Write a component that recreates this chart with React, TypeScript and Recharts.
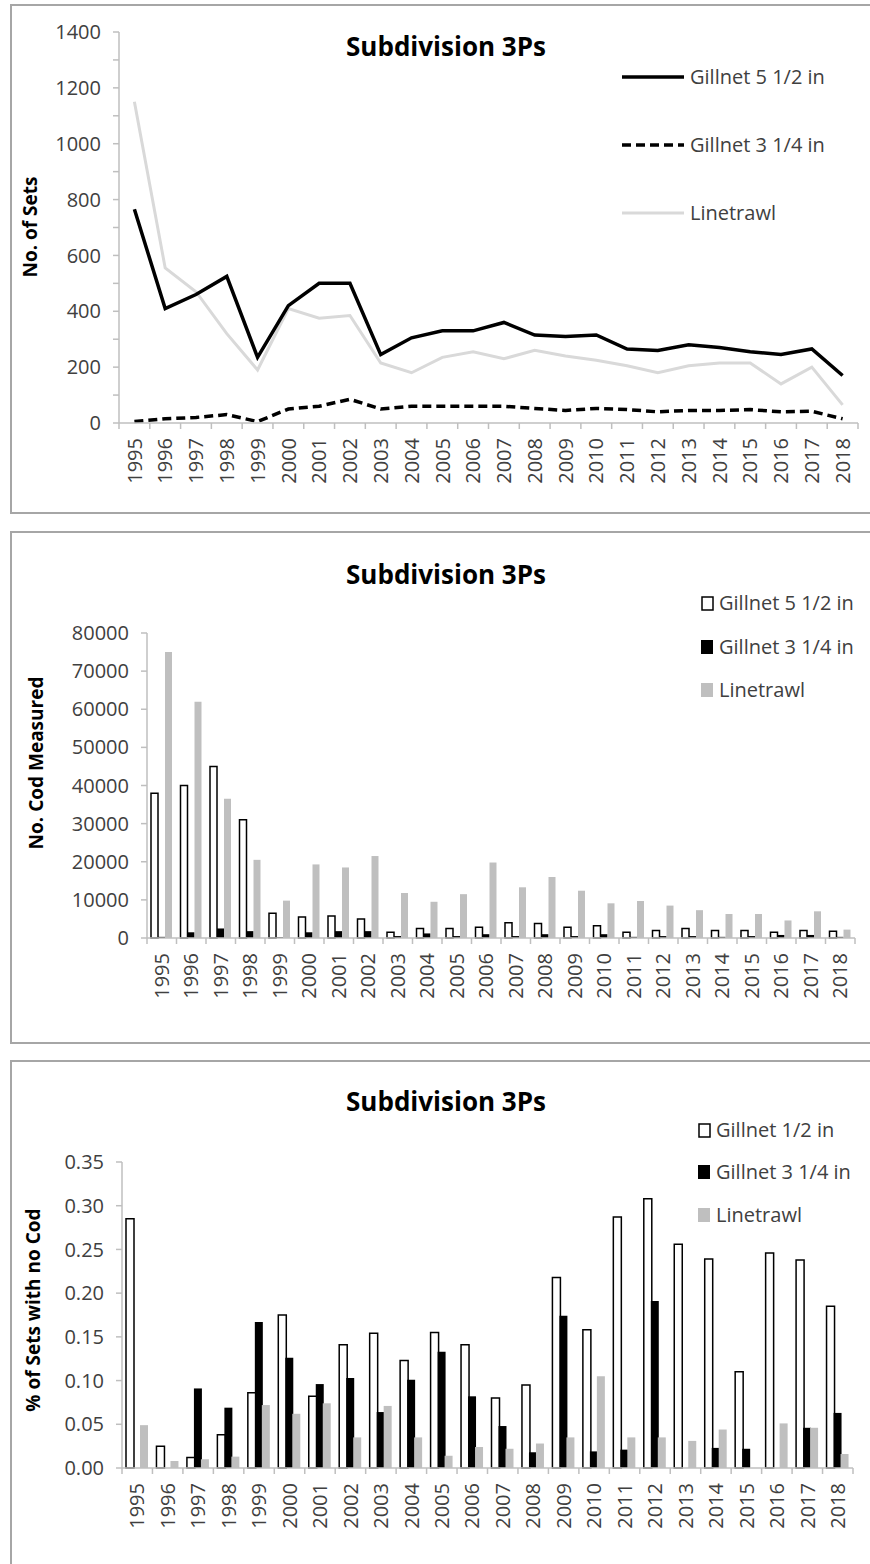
import React from 'react'
import { LineChart, Line, BarChart, Bar, XAxis, YAxis, Legend } from 'recharts'

const YEARS = [
  '1995', '1996', '1997', '1998', '1999', '2000', '2001', '2002', '2003', '2004', '2005', '2006',
  '2007', '2008', '2009', '2010', '2011', '2012', '2013', '2014', '2015', '2016', '2017', '2018',
]

// No. of sets
const SETS_GILL_55 = [765, 410, 460, 525, 235, 420, 500, 500, 245, 305, 330, 330, 360, 315, 310, 315, 265, 260, 280, 270, 255, 245, 265, 170]
const SETS_GILL_34 = [5, 15, 20, 30, 5, 50, 60, 85, 50, 60, 60, 60, 60, 52, 45, 52, 48, 40, 45, 45, 48, 40, 42, 15]
const SETS_LINE = [1150, 555, 470, 320, 190, 410, 375, 385, 215, 180, 235, 255, 230, 260, 240, 225, 205, 180, 205, 215, 215, 140, 200, 65]

// No. of cod measured
const COD_GILL_55 = [38000, 40000, 45000, 31000, 6500, 5500, 5800, 5000, 1500, 2500, 2500, 2800, 4000, 3800, 2800, 3200, 1500, 2000, 2500, 2000, 2000, 1500, 2000, 1800]
const COD_GILL_34 = [300, 1500, 2500, 1800, 200, 1500, 1800, 1800, 500, 1200, 500, 1000, 500, 1000, 500, 1000, 300, 500, 500, 300, 500, 800, 800, 300]
const COD_LINE = [75000, 62000, 36500, 20500, 9800, 19300, 18500, 21500, 11800, 9500, 11500, 19800, 13300, 16000, 12400, 9100, 9700, 8500, 7300, 6300, 6300, 4600, 7000, 2200]

// Share of sets with no cod
const NOCOD_GILL_12 = [0.285, 0.025, 0.012, 0.038, 0.086, 0.175, 0.082, 0.141, 0.154, 0.123, 0.155, 0.141, 0.08, 0.095, 0.218, 0.158, 0.287, 0.308, 0.256, 0.239, 0.11, 0.246, 0.238, 0.185]
const NOCOD_GILL_34 = [0, 0, 0.091, 0.069, 0.167, 0.126, 0.096, 0.103, 0.064, 0.101, 0.133, 0.082, 0.048, 0.018, 0.174, 0.019, 0.021, 0.191, 0, 0.023, 0.022, 0, 0.046, 0.063]
const NOCOD_LINE = [0.049, 0.008, 0.01, 0.013, 0.072, 0.062, 0.074, 0.035, 0.071, 0.035, 0.014, 0.024, 0.022, 0.028, 0.035, 0.105, 0.035, 0.035, 0.031, 0.044, 0, 0.051, 0.046, 0.016]

const SETS_TICKS = [0, 100, 200, 300, 400, 500, 600, 700, 800, 900, 1000, 1100, 1200, 1300, 1400]
const COD_TICKS = [0, 10000, 20000, 30000, 40000, 50000, 60000, 70000, 80000]
const NOCOD_TICKS = [0, 0.05, 0.1, 0.15, 0.2, 0.25, 0.3, 0.35]

const FONT = '"Open Sans", "Liberation Sans", sans-serif'
const AXIS = '#bfbfbf'
const TICK_TEXT = '#404040'
const LEGEND_TEXT = '#404040'
const LIGHT = '#d9d9d9'
const MID = '#bfbfbf'

const setsData = YEARS.map((year, i) => ({ year, gill55: SETS_GILL_55[i], gill34: SETS_GILL_34[i], line: SETS_LINE[i] }))
const codData = YEARS.map((year, i) => ({ year, gill55: COD_GILL_55[i], gill34: COD_GILL_34[i], line: COD_LINE[i] }))
const noCodData = YEARS.map((year, i) => ({ year, gill12: NOCOD_GILL_12[i], gill34: NOCOD_GILL_34[i], line: NOCOD_LINE[i] }))

// category labels run bottom-to-top, tick marks sit on category boundaries
function YearTick({ x, y, payload, index, step }: any) {
  const half = step / 2
  return (
    <g>
      <line x1={x - half} x2={x - half} y1={y} y2={y + 6} stroke={AXIS} strokeWidth={1.5} />
      {index === YEARS.length - 1 && (
        <line x1={x + half} x2={x + half} y1={y} y2={y + 6} stroke={AXIS} strokeWidth={1.5} />
      )}
      <text
        transform={`translate(${x},${y + 15}) rotate(-90)`}
        textAnchor="end"
        dy="0.36em"
        fill={TICK_TEXT}
        fontSize={20}
        fontFamily={FONT}
      >
        {payload.value}
      </text>
    </g>
  )
}

type LegendItem = { label: string; kind: 'solid' | 'dash' | 'light' | 'open' | 'black' | 'grey' }

function LegendBlock({ items, rows, lineSwatch }: { items: LegendItem[]; rows: number[]; lineSwatch: boolean }) {
  const textX = lineSwatch ? 80 : 24
  return (
    <svg width={260} height={rows[rows.length - 1] + 20} style={{ display: 'block' }}>
      {items.map((it, i) => {
        const cy = rows[i]
        let swatch
        if (it.kind === 'solid') swatch = <line x1={12} x2={74} y1={cy} y2={cy} stroke="#000" strokeWidth={3.5} />
        else if (it.kind === 'dash') swatch = <line x1={12} x2={74} y1={cy} y2={cy} stroke="#000" strokeWidth={3.5} strokeDasharray="9 5" />
        else if (it.kind === 'light') swatch = <line x1={12} x2={74} y1={cy} y2={cy} stroke={LIGHT} strokeWidth={3} />
        else if (it.kind === 'open') swatch = <rect x={7} y={cy - 6} width={11} height={13} fill="#fff" stroke="#000" strokeWidth={1.5} />
        else if (it.kind === 'black') swatch = <rect x={6} y={cy - 7} width={12} height={14} fill="#000" />
        else swatch = <rect x={6} y={cy - 7} width={12} height={14} fill={MID} />
        return (
          <g key={it.label}>
            {swatch}
            <text x={textX} y={cy} dy="0.35em" fill={LEGEND_TEXT} fontSize={20} fontFamily={FONT}>
              {it.label}
            </text>
          </g>
        )
      })}
    </svg>
  )
}

function PanelText({ top, title, titleY, yLabel, yLabelX, yLabelY }: any) {
  return (
    <svg width={870} height={530} style={{ position: 'absolute', left: 0, top, pointerEvents: 'none' }}>
      <text x={446} y={titleY} dy="0.35em" textAnchor="middle" fontSize={26} fontWeight={700} fontFamily={FONT} fill="#000">
        {title}
      </text>
      <text
        transform={`translate(${yLabelX},${yLabelY}) rotate(-90)`}
        textAnchor="middle"
        dy="0.35em"
        fontSize={19}
        fontWeight={700}
        fontFamily={FONT}
        fill="#000"
      >
        {yLabel}
      </text>
    </svg>
  )
}

const panelBox = (top: number, height: number): React.CSSProperties => ({
  position: 'absolute',
  left: 10,
  top,
  width: 900,
  height,
  border: '2px solid #a6a6a6',
  boxSizing: 'border-box',
})

const yTickStyle = { fill: TICK_TEXT, fontSize: 20, fontFamily: FONT }

export default function App() {
  const setsStep = (858 - 119) / YEARS.length
  const codStep = (855 - 147) / YEARS.length
  const noCodStep = (853 - 122) / YEARS.length

  return (
    <div style={{ position: 'absolute', left: 0, top: 0, width: 870, height: 1564, overflow: 'hidden', background: '#fff' }}>
      <div style={panelBox(4, 510)} />
      <div style={panelBox(531, 513)} />
      <div style={panelBox(1060, 520)} />

      {/* No. of sets */}
      <div style={{ position: 'absolute', left: 0, top: 0 }}>
        <LineChart width={870} height={520} data={setsData} margin={{ top: 32, right: 12, bottom: 37, left: 50 }}>
          <XAxis
            dataKey="year"
            interval={0}
            padding={{ left: setsStep / 2, right: setsStep / 2 }}
            stroke={AXIS}
            strokeWidth={1.5}
            tickLine={false}
            tickSize={0}
            tickMargin={0}
            height={60}
            tick={<YearTick step={setsStep} />}
          />
          <YAxis
            domain={[0, 1400]}
            ticks={SETS_TICKS}
            interval={0}
            width={69}
            stroke={AXIS}
            strokeWidth={1.5}
            tickSize={6}
            tickMargin={12}
            tick={yTickStyle}
            tickFormatter={(v: number) => (v % 200 === 0 ? String(v) : '')}
          />
          <Legend
            layout="vertical"
            align="center"
            verticalAlign="middle"
            wrapperStyle={{ top: 50, left: 610, width: 260 }}
            content={() => (
              <LegendBlock
                lineSwatch
                rows={[27, 95, 163]}
                items={[
                  { label: 'Gillnet 5 1/2 in', kind: 'solid' },
                  { label: 'Gillnet 3 1/4 in', kind: 'dash' },
                  { label: 'Linetrawl', kind: 'light' },
                ]}
              />
            )}
          />
          <Line dataKey="line" name="Linetrawl" stroke={LIGHT} strokeWidth={3} dot={false} isAnimationActive={false} />
          <Line dataKey="gill34" name="Gillnet 3 1/4 in" stroke="#000" strokeWidth={3.5} strokeDasharray="9 5" dot={false} isAnimationActive={false} />
          <Line dataKey="gill55" name="Gillnet 5 1/2 in" stroke="#000" strokeWidth={3.5} dot={false} isAnimationActive={false} />
        </LineChart>
      </div>
      <PanelText top={0} title="Subdivision 3Ps" titleY={47} yLabel="No. of Sets" yLabelX={30} yLabelY={227} />

      {/* No. cod measured */}
      <div style={{ position: 'absolute', left: 0, top: 520 }}>
        <BarChart width={870} height={520} data={codData} margin={{ top: 113, right: 15, bottom: 42, left: 60 }} barSize={7} barGap={0}>
          <XAxis
            dataKey="year"
            interval={0}
            stroke={AXIS}
            strokeWidth={1.5}
            tickLine={false}
            tickSize={0}
            tickMargin={0}
            height={60}
            tick={<YearTick step={codStep} />}
          />
          <YAxis
            domain={[0, 80000]}
            ticks={COD_TICKS}
            interval={0}
            width={87}
            stroke={AXIS}
            strokeWidth={1.5}
            tickSize={6}
            tickMargin={12}
            tick={yTickStyle}
          />
          <Legend
            layout="vertical"
            align="center"
            verticalAlign="middle"
            wrapperStyle={{ top: 60, left: 695, width: 260 }}
            content={() => (
              <LegendBlock
                lineSwatch={false}
                rows={[23, 67, 110]}
                items={[
                  { label: 'Gillnet 5 1/2 in', kind: 'open' },
                  { label: 'Gillnet 3 1/4 in', kind: 'black' },
                  { label: 'Linetrawl', kind: 'grey' },
                ]}
              />
            )}
          />
          <Bar dataKey="gill55" name="Gillnet 5 1/2 in" fill="#fff" stroke="#000" strokeWidth={1.5} isAnimationActive={false} />
          <Bar dataKey="gill34" name="Gillnet 3 1/4 in" fill="#000" isAnimationActive={false} />
          <Bar dataKey="line" name="Linetrawl" fill={MID} isAnimationActive={false} />
        </BarChart>
      </div>
      <PanelText top={520} title="Subdivision 3Ps" titleY={55} yLabel="No. Cod Measured" yLabelX={36} yLabelY={243} />

      {/* % of sets with no cod */}
      <div style={{ position: 'absolute', left: 0, top: 1040 }}>
        <BarChart width={870} height={524} data={noCodData} margin={{ top: 122, right: 17, bottom: 36, left: 50 }} barSize={8} barGap={-1}>
          <XAxis
            dataKey="year"
            interval={0}
            stroke={AXIS}
            strokeWidth={1.5}
            tickLine={false}
            tickSize={0}
            tickMargin={0}
            height={60}
            tick={<YearTick step={noCodStep} />}
          />
          <YAxis
            domain={[0, 0.35]}
            ticks={NOCOD_TICKS}
            interval={0}
            width={72}
            stroke={AXIS}
            strokeWidth={1.5}
            tickSize={6}
            tickMargin={12}
            tick={yTickStyle}
            tickFormatter={(v: number) => v.toFixed(2)}
          />
          <Legend
            layout="vertical"
            align="center"
            verticalAlign="middle"
            wrapperStyle={{ top: 70, left: 692, width: 260 }}
            content={() => (
              <LegendBlock
                lineSwatch={false}
                rows={[20, 62, 105]}
                items={[
                  { label: 'Gillnet 1/2 in', kind: 'open' },
                  { label: 'Gillnet 3 1/4 in', kind: 'black' },
                  { label: 'Linetrawl', kind: 'grey' },
                ]}
              />
            )}
          />
          <Bar dataKey="gill12" name="Gillnet 1/2 in" fill="#fff" stroke="#000" strokeWidth={1.5} isAnimationActive={false} />
          <Bar dataKey="gill34" name="Gillnet 3 1/4 in" fill="#000" isAnimationActive={false} />
          <Bar dataKey="line" name="Linetrawl" fill={MID} isAnimationActive={false} />
        </BarChart>
      </div>
      <PanelText top={1040} title="Subdivision 3Ps" titleY={62} yLabel="% of Sets with no Cod" yLabelX={33} yLabelY={270} />
    </div>
  )
}
